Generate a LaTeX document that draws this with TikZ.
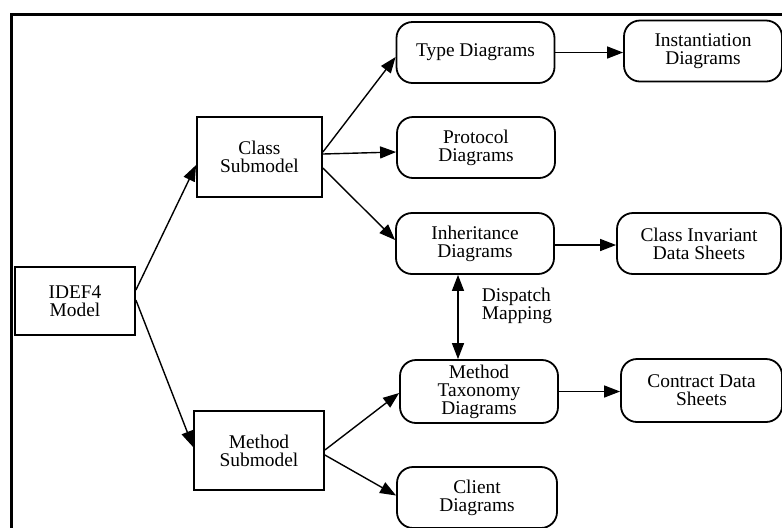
\documentclass[tikz,border=0pt]{standalone}
\usepackage{fontspec}
\setmainfont{Liberation Serif}
\usetikzlibrary{arrows.meta,positioning}

\begin{document}
\begin{tikzpicture}[
    x=0.5pt, y=-0.5pt,
    every node/.style={font=\fontsize{9.7}{9}\selectfont, align=center},
    submodel/.style={draw, line width=0.9pt, inner sep=0pt},
    diagram/.style={draw, line width=0.9pt, rounded corners=8pt, minimum width=79pt, minimum height=30.5pt, inner sep=0pt},
    arrow/.style={line width=0.7pt, -{Triangle[length=8pt, width=6pt]}},
    dblarrow/.style={line width=0.7pt, {Triangle[length=8pt, width=6pt]}-{Triangle[length=8pt, width=6pt]}}
  ]
    \useasboundingbox (0,0) rectangle (782,527);

    % Frame (cut off at right and bottom)
    \draw[line width=1.5pt] (11,540) -- (11,14) -- (800,14);

    % Model and submodels
    \node[submodel, minimum width=60pt, minimum height=34pt] (idef) at (75,301) {IDEF4\\Model};
    \node[submodel, minimum width=62.5pt, minimum height=40pt] (class) at (259.5,157) {Class\\Submodel};
    \node[submodel, minimum width=65pt, minimum height=39.5pt] (method) at (259,450.5) {Method\\Submodel};

    % Class diagrams
    \node[diagram] (type) at (475.5,52.5) {Type Diagrams};
    \node[diagram] (inst) at (703,51) {Instantiation\\Diagrams};
    \node[diagram] (proto) at (476,147.5) {Protocol\\Diagrams};
    \node[diagram] (inher) at (475,243.5) {Inheritance\\Diagrams};
    \node[diagram, minimum width=82pt] (inv) at (699,243.5) {Class Invariant\\Data Sheets};

    % Method diagrams
    \node[diagram, minimum height=31.5pt] (tax) at (479,391.5) {Method\\Taxonomy\\Diagrams};
    \node[diagram, minimum width=80.5pt, minimum height=31.5pt] (contract) at (701.5,390.5) {Contract Data\\Sheets};
    \node[diagram, minimum width=80pt] (client) at (477,497.5) {Client\\Diagrams};

    \node[align=left] (dispatch) at (517,306) {Dispatch\\Mapping};

    % Connections from model
    \draw[arrow] ([yshift=5.5pt]idef.east) -- ([yshift=-4pt]class.west);
    \draw[arrow] ([yshift=0.5pt]idef.east) -- ([yshift=1.75pt]method.west);

    % Connections from class submodel
    \draw[arrow] ([yshift=2.5pt]class.east) -- ([yshift=-2.25pt]type.west);
    \draw[arrow] ([yshift=1.5pt]class.east) -- ([yshift=-2.25pt]proto.west);
    \draw[arrow] ([yshift=-5.5pt]class.east) -- ([yshift=1.75pt]inher.west);
    \draw[arrow] (type.east) -- (type.east -| inst.west);
    \draw[arrow] ([yshift=-0.75pt]inher.east) -- ([yshift=-0.75pt]inher.east -| inv.west);
    \draw[dblarrow] ([xshift=-8.5pt]inher.south) -- ([xshift=-8.5pt]inher.south |- tax.north);

    % Connections from method submodel
    \draw[arrow] ([yshift=0.25pt]method.east) -- ([yshift=-0.75pt]tax.west);
    \draw[arrow] ([yshift=-2.25pt]method.east) -- ([yshift=1pt]client.west);
    \draw[arrow] (tax.east) -- (tax.east -| contract.west);

  \end{tikzpicture}
\end{document}
